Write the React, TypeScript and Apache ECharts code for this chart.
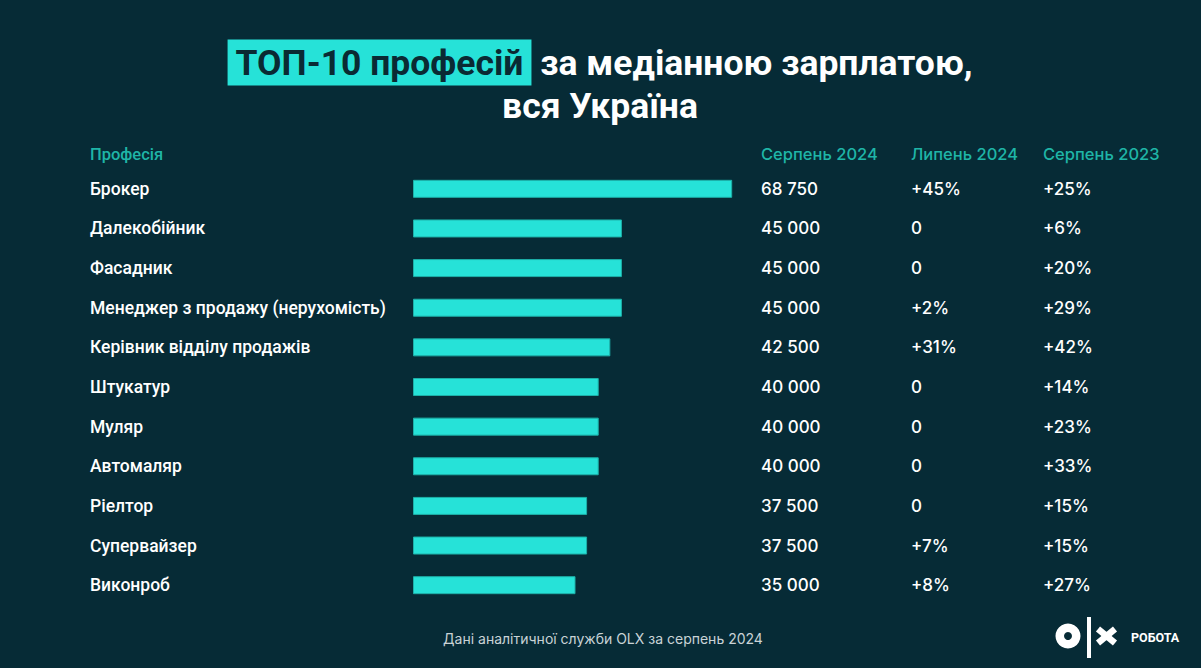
import React, { useEffect, useRef } from "react";
import * as echarts from "echarts";

const professions = [
  "Брокер",
  "Далекобійник",
  "Фасадник",
  "Менеджер з продажу (нерухомість)",
  "Керівник відділу продажів",
  "Штукатур",
  "Муляр",
  "Автомаляр",
  "Ріелтор",
  "Супервайзер",
  "Виконроб",
];
const salaryAug2024 = [68750, 45000, 45000, 45000, 42500, 40000, 40000, 40000, 37500, 37500, 35000];
const changeVsJul2024 = ["+45%", "0", "0", "+2%", "+31%", "0", "0", "0", "0", "+7%", "+8%"];
const changeVsAug2023 = ["+25%", "+6%", "+20%", "+29%", "+42%", "+14%", "+23%", "+33%", "+15%", "+15%", "+27%"];
const columnHeaders = ["Професія", "Серпень 2024", "Липень 2024", "Серпень 2023"];
const titleHighlight = "ТОП-10 професій";
const titleRest = "за медіанною зарплатою,";
const titleLine2 = "вся Україна";
const footnote = "Дані аналітичної служби OLX за серпень 2024";

const BG = "#062b36";
const TEAL = "#26e2d8";
const HEAD = "#1fb5a7";

const fmt = (n: number) => String(n).replace(/\B(?=(\d{3})+(?!\d))/g, " ");

export default function App() {
  const ref = useRef<HTMLDivElement>(null);
  useEffect(() => {
    if (!ref.current) return;
    const chart = echarts.init(ref.current, null, { renderer: "svg" });
    const valueLabel = {
      color: "#ffffff",
      fontSize: 17,
      fontWeight: 500,
      fontFamily: "Inter",
      align: "left" as const,
      margin: 23,
    };
    const hidden = { axisLine: { show: false }, axisTick: { show: false }, splitLine: { show: false } };
    const headStyle = (t: string, fam: string) => ({
      text: t,
      fill: HEAD,
      font: `500 16.5px ${fam}`,
      align: "left",
      verticalAlign: "middle",
    });
    chart.setOption({
      animation: false,
      backgroundColor: BG,
      title: [
        {
          left: 595,
          top: 36,
          textAlign: "center",
          text: `{hl|${titleHighlight}}{w| ${titleRest}}\n{w|${titleLine2}}`,
          textStyle: {
            rich: {
              hl: {
                backgroundColor: TEAL,
                color: "#0a2a33",
                fontSize: 35.5,
                fontWeight: "bold",
                fontFamily: "Roboto",
                padding: [5, 8, 5, 8],
                lineHeight: 37,
              },
              w: {
                color: "#ffffff",
                fontSize: 35.5,
                fontWeight: "bold",
                fontFamily: "Roboto",
                lineHeight: 43,
              },
            },
          },
        },
        {
          left: 598,
          top: 626,
          textAlign: "center",
          text: footnote,
          textStyle: { color: "#c9d3d6", fontSize: 14, fontWeight: "normal", fontFamily: "Inter" },
        },
      ],
      grid: { left: 413, top: 169, width: 325, height: 436, containLabel: false },
      xAxis: { type: "value", min: 0, max: 70000, show: false },
      yAxis: [
        {
          type: "category",
          inverse: true,
          data: professions,
          position: "left",
          ...hidden,
          axisLabel: {
            color: "#ffffff",
            fontSize: 17.5,
            fontWeight: 500,
            fontFamily: "Roboto",
            align: "left",
            margin: 323,
          },
        },
        {
          type: "category",
          inverse: true,
          data: professions,
          position: "right",
          offset: 0,
          ...hidden,
          axisLabel: { ...valueLabel, formatter: (_v: string, i: number) => fmt(salaryAug2024[i]) },
        },
        {
          type: "category",
          inverse: true,
          data: professions,
          position: "right",
          offset: 150,
          ...hidden,
          axisLabel: { ...valueLabel, formatter: (_v: string, i: number) => changeVsJul2024[i] },
        },
        {
          type: "category",
          inverse: true,
          data: professions,
          position: "right",
          offset: 282,
          ...hidden,
          axisLabel: { ...valueLabel, formatter: (_v: string, i: number) => changeVsAug2023[i] },
        },
      ],
      series: [
        {
          type: "bar",
          yAxisIndex: 0,
          data: salaryAug2024,
          barWidth: 18,
          itemStyle: { color: TEAL, borderColor: "#1db0a8", borderWidth: 1 },
        },
      ],
      graphic: [
        { type: "text", x: 90, y: 154, style: headStyle(columnHeaders[0], "Roboto") },
        { type: "text", x: 761, y: 154, style: headStyle(columnHeaders[1], "Inter") },
        { type: "text", x: 911, y: 154, style: headStyle(columnHeaders[2], "Inter") },
        { type: "text", x: 1043, y: 154, style: headStyle(columnHeaders[3], "Inter") },
        { type: "ring", shape: { cx: 1068, cy: 636, r: 12.5, r0: 4 }, style: { fill: "#ffffff" } },
        { type: "rect", shape: { x: 1087, y: 617, width: 4, height: 41 }, style: { fill: "#ffffff" } },
        {
          type: "line",
          shape: { x1: 1098, y1: 629, x2: 1115, y2: 643 },
          style: { stroke: "#ffffff", lineWidth: 6.5, lineCap: "butt" },
        },
        {
          type: "line",
          shape: { x1: 1098, y1: 643, x2: 1115, y2: 629 },
          style: { stroke: "#ffffff", lineWidth: 6.5, lineCap: "butt" },
        },
        {
          type: "text",
          x: 1131,
          y: 637,
          style: { text: "РОБОТА", fill: "#ffffff", font: "bold 12.5px Roboto", align: "left", verticalAlign: "middle" },
        },
      ],
    });
    return () => chart.dispose();
  }, []);
  return (
    <div
      ref={ref}
      style={{ position: "fixed", left: 0, top: 0, width: 1201, height: 668 }}
    />
  );
}
